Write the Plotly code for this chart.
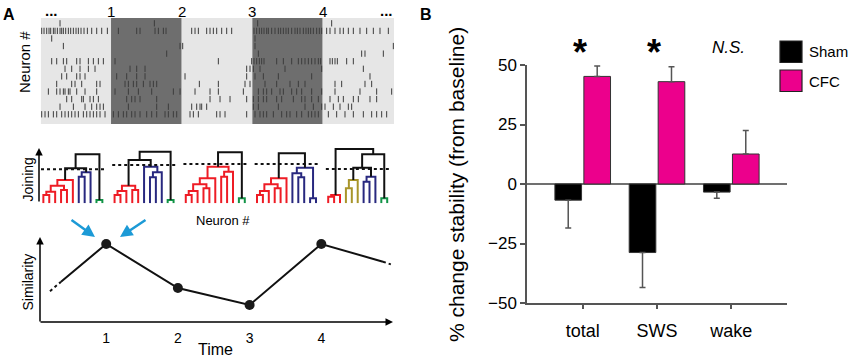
import plotly.graph_objects as go

# ======================= DATA =======================
# ---- Panel B: % change stability ----
CATEGORIES = ["total", "SWS", "wake"]
SHAM_MEAN = [-6.8, -28.8, -3.4]
SHAM_SEM = [11.7, 14.7, 2.6]
CFC_MEAN = [45.2, 43.0, 12.6]
CFC_SEM = [4.4, 6.3, 9.9]
Y_TICKS = [-50, -25, 0, 25, 50]
SIG_LABELS = ["<b>*</b>", "<b>*</b>", "<i>N.S.</i>"]
SERIES_NAMES = ["Sham", "CFC"]

# ---- Panel A: raster (time in ms, 13 neurons) ----
EPOCH_EDGES = [0, 211, 423, 635, 846, 1060]
EPOCH_KIND = ["light", "dark", "light", "dark", "light"]
EPOCH_LABELS = ["1", "2", "3", "4"]
SPIKE_TIMES = [
    [58, 341, 651, 873],
    [3, 10, 18, 25, 30, 38, 43, 50, 58, 63, 68, 75, 83, 90, 98, 106, 113, 121, 130, 140, 153, 168, 183, 200,
     233, 288, 298, 343, 353, 368, 376, 453, 463, 473, 498, 508, 518, 528, 543, 558, 573,
     640, 648, 656, 663, 670, 678, 683, 693, 703, 713, 720, 728, 736, 743, 753, 763, 770, 778, 788, 796,
     803, 810, 818, 828, 836, 843, 858, 868, 883, 898, 908, 923, 938, 958, 978, 998, 1018, 1043],
    [33, 643],
    [68, 418, 426, 643, 1058],
    [378, 653, 963, 973, 1028],
    [33, 48, 68, 78, 108, 118, 143, 158, 173, 188, 223, 533, 633, 640, 648, 656, 663, 670, 708, 728, 753,
     773, 783, 793, 803, 813, 823, 833, 840, 868, 875, 883, 890, 918, 938],
    [73, 93, 118, 143, 163, 268, 288, 313, 618, 628, 638, 658, 733, 843, 968],
    [63, 78, 108, 118, 133, 228, 258, 288, 313, 433, 618, 643, 668, 713, 813, 988],
    [48, 93, 103, 123, 168, 178, 253, 263, 278, 288, 308, 328, 338, 348, 476, 533, 613, 628, 673,
     708, 748, 773, 793, 883, 903, 973, 993],
    [23, 48, 58, 68, 73, 83, 88, 108, 133, 168, 223, 263, 293, 333, 398, 418, 463, 508, 533, 608,
     653, 668, 678, 693, 718, 728, 753, 768, 783, 813, 843, 883, 958, 1008, 1053],
    [78, 93, 123, 128, 148, 158, 173, 258, 273, 283, 298, 348, 508, 538, 568, 618, 638, 653, 668, 678,
     708, 723, 758, 783, 793, 813, 833, 868, 893, 908, 938, 953, 988, 1008],
    [58, 98, 133, 153, 168, 178, 188, 263, 348, 383, 453, 468, 478, 483, 498, 638, 653, 713, 793, 818,
     843, 853, 878, 898, 923, 933],
    [3, 13, 23, 38, 48, 63, 73, 83, 93, 103, 113, 128, 138, 148, 158, 168, 178, 193, 218, 233, 248, 258,
     273, 283, 298, 318, 333, 348, 373, 383, 398, 408, 448, 458, 473, 528, 538, 553, 618, 643, 658, 668,
     678, 698, 723, 738, 748, 768, 783, 803, 813, 823, 833, 863, 888, 913, 938, 968, 993, 1008, 1023, 1038],
]

# ---- Panel A: dendrograms (merge: child a, child b, joining height, cluster) ----
NEURON_LABELS = ["1", "2", "3", "4", "5", "6", "7", "8", "9", "10", "11"]
DENDROGRAMS = [
    [(1, 2, 8.3, "r"), (12, 3, 11.6, "r"), (4, 5, 13.3, "r"), (13, 14, 17.6, "r"), (15, 6, 23.3, "r"),
     (7, 8, 26.6, "b"), (17, 9, 31.0, "b"), (10, 11, 3.3, "g"), (16, 18, 35.0, "k"), (20, 19, 49.0, "k")],
    [(1, 2, 8.3, "r"), (12, 3, 12.3, "r"), (4, 5, 13.3, "r"), (13, 14, 17.6, "r"), (7, 8, 26.0, "b"),
     (16, 9, 31.0, "b"), (6, 17, 36.6, "b"), (10, 11, 3.3, "g"), (15, 18, 43.3, "k"), (20, 19, 51.6, "k")],
    [(1, 2, 8.3, "r"), (12, 3, 12.3, "r"), (4, 5, 15.0, "r"), (13, 14, 19.0, "r"), (15, 6, 25.0, "r"),
     (7, 8, 26.6, "r"), (17, 9, 31.6, "r"), (16, 18, 36.6, "r"), (10, 11, 5.0, "g"), (19, 20, 51.0, "k")],
    [(1, 2, 8.3, "r"), (12, 3, 12.3, "r"), (4, 5, 15.0, "r"), (13, 14, 19.0, "r"), (15, 6, 25.0, "r"),
     (8, 9, 26.0, "b"), (7, 17, 30.0, "b"), (10, 11, 5.0, "b"), (18, 19, 35.6, "b"), (16, 20, 50.0, "k")],
    [(1, 2, 6.6, "r"), (12, 3, 8.3, "r"), (4, 5, 15.0, "o"), (14, 6, 23.3, "o"), (7, 8, 21.6, "b"),
     (16, 9, 26.6, "b"), (10, 11, 5.0, "g"), (15, 17, 35.6, "k"), (19, 18, 49.0, "k"), (13, 20, 54.3, "k")],
]
THRESHOLDS = [34.0, 38.3, 39.3, 39.3, 34.3]

# ---- Panel A: similarity over time ----
SIM_TIME = [1, 2, 3, 4]
SIM_VALUES = [78, 34, 17, 78]
SIM_LEAD_TIME = [0.216, 0.37]
SIM_LEAD_VALUES = [30.8, 40.3]
SIM_TAIL_TIME = [4.86, 4.97]
SIM_TAIL_VALUES = [60.3, 57.6]

# ======================= STYLE / LAYOUT =======================
W, H = 850, 358
FONT = "Liberation Sans, Arial, sans-serif"
SHAM_COLOR = "#000000"
CFC_COLOR = "#ec008c"
AXIS_COLOR = "#555555"
EPOCH_COLORS = {"light": "#e6e6e6", "dark": "#6e6e6e"}
CLUSTER_COLORS = {"r": "#ee1c25", "b": "#28287f", "g": "#129447", "o": "#a8952a", "k": "#111111"}
DENDRO_SPACING = 12.07
BLUE_ARROW = "#1c9ad6"


def fx(p):
    return p / W


def fy(p):
    return 1 - p / H


fig = go.Figure()

# ---------------- Panel B bars ----------------
fig.add_trace(go.Bar(
    x=CATEGORIES, y=SHAM_MEAN, name=SERIES_NAMES[0],
    marker=dict(color=SHAM_COLOR, line=dict(color="#333333", width=1)),
    error_y=dict(type="data", symmetric=False, array=[0 for _ in SHAM_SEM], arrayminus=SHAM_SEM,
                 color=AXIS_COLOR, thickness=1.5, width=3),
    xaxis="x", yaxis="y", showlegend=False))
fig.add_trace(go.Bar(
    x=CATEGORIES, y=CFC_MEAN, name=SERIES_NAMES[1],
    marker=dict(color=CFC_COLOR, line=dict(color="#333333", width=1)),
    error_y=dict(type="data", symmetric=False, array=CFC_SEM, arrayminus=[0 for _ in CFC_SEM],
                 color=AXIS_COLOR, thickness=1.5, width=3),
    xaxis="x", yaxis="y", showlegend=False))

# ---------------- Panel A raster ----------------
sx, sy = [], []
for r, times in enumerate(SPIKE_TIMES, start=1):
    sx.extend(times)
    sy.extend([r] * len(times))
fig.add_trace(go.Scatter(
    x=sx, y=sy, mode="markers", xaxis="x2", yaxis="y2", hoverinfo="skip", showlegend=False,
    marker=dict(symbol="line-ns", size=4.5, line=dict(color="#3c3c3c", width=1))))

shapes = []
for k, kind in enumerate(EPOCH_KIND):
    shapes.append(dict(type="rect", xref="x2", yref="y2 domain", x0=EPOCH_EDGES[k], x1=EPOCH_EDGES[k + 1],
                       y0=0, y1=1, fillcolor=EPOCH_COLORS[kind], line=dict(width=0), layer="below"))

# ---------------- Panel A dendrograms ----------------
for k, merges in enumerate(DENDROGRAMS):
    off = k * DENDRO_SPACING
    pos = {i: (i - 1 + off, 0.0) for i in range(1, 12)}
    segs = {}
    nid = 12
    for a, b, h, c in merges:
        xa, ha = pos[a]
        xb, hb = pos[b]
        xs, ys = segs.setdefault(c, ([], []))
        xs.extend([xa, xa, xb, xb, None])
        ys.extend([ha, h, h, hb, None])
        pos[nid] = ((xa + xb) / 2, h)
        nid += 1
    for c, (xs, ys) in segs.items():
        fig.add_trace(go.Scatter(x=xs, y=ys, mode="lines", xaxis="x3", yaxis="y3", hoverinfo="skip",
                                 showlegend=False, cliponaxis=False,
                                 line=dict(color=CLUSTER_COLORS[c], width=2)))
    fig.add_trace(go.Scatter(x=[off - 0.4, off + 10.5], y=[THRESHOLDS[k], THRESHOLDS[k]], mode="lines",
                             xaxis="x3", yaxis="y3", hoverinfo="skip", showlegend=False, cliponaxis=False,
                             line=dict(color="#111111", width=2, dash="3px,3px")))

lx, ly, lt = [], [], []
for k in range(len(DENDROGRAMS)):
    for i, lab in enumerate(NEURON_LABELS):
        lx.append(k * DENDRO_SPACING + i)
        ly.append(-4.7)
        lt.append(lab)
fig.add_trace(go.Scatter(x=lx, y=ly, text=lt, mode="text", xaxis="x3", yaxis="y3", hoverinfo="skip",
                         showlegend=False, cliponaxis=False,
                         textfont=dict(size=6.5, family="Liberation Sans Narrow, Liberation Sans, Arial",
                                       color="#222222")))

# ---------------- Panel A similarity ----------------
fig.add_trace(go.Scatter(x=SIM_LEAD_TIME, y=SIM_LEAD_VALUES, mode="lines", xaxis="x4", yaxis="y4",
                         showlegend=False, hoverinfo="skip", cliponaxis=False,
                         line=dict(color="#111111", width=2, dash="dot")))
fig.add_trace(go.Scatter(x=SIM_TAIL_TIME, y=SIM_TAIL_VALUES, mode="lines", xaxis="x4", yaxis="y4",
                         showlegend=False, hoverinfo="skip", cliponaxis=False,
                         line=dict(color="#111111", width=2, dash="dot")))
fig.add_trace(go.Scatter(x=[SIM_LEAD_TIME[-1]] + SIM_TIME + [SIM_TAIL_TIME[0]],
                         y=[SIM_LEAD_VALUES[-1]] + SIM_VALUES + [SIM_TAIL_VALUES[0]],
                         mode="lines", xaxis="x4", yaxis="y4", showlegend=False, hoverinfo="skip",
                         cliponaxis=False, line=dict(color="#111111", width=2)))
fig.add_trace(go.Scatter(x=SIM_TIME, y=SIM_VALUES, mode="markers", xaxis="x4", yaxis="y4",
                         showlegend=False, hoverinfo="skip", cliponaxis=False,
                         marker=dict(color="#1a1a1a", size=10)))

# ---------------- annotations ----------------
ann = []


def text(x, y, t, size, angle=0, xanchor="center", **kw):
    ann.append(dict(x=fx(x), y=fy(y), xref="paper", yref="paper", text=t, showarrow=False,
                    font=dict(size=size, family=FONT, color="black"), textangle=angle,
                    xanchor=xanchor, yanchor="middle", **kw))


def arrow(hx, hy, tx, ty, color="black", width=1.5, head=2):
    ann.append(dict(x=fx(hx), y=fy(hy), xref="paper", yref="paper", ax=tx - hx, ay=ty - hy,
                    axref="pixel", ayref="pixel", text="", showarrow=True, arrowhead=head,
                    arrowsize=1, arrowwidth=width, arrowcolor=color, standoff=0, startstandoff=0))


text(9, 14, "<b>A</b>", 16)
text(426, 14, "<b>B</b>", 16)

# raster labels
for k, lab in enumerate(EPOCH_LABELS):
    ann.append(dict(x=EPOCH_EDGES[k + 1], y=fy(11), xref="x2", yref="paper", text=lab, showarrow=False,
                    font=dict(size=15, family=FONT, color="black"), xanchor="center", yanchor="middle"))
text(51, 10, "<b>...</b>", 15)
text(386, 10, "<b>...</b>", 15)
text(25, 62, "Neuron #", 15, angle=-90)

# dendrogram labels
arrow(39, 148, 39, 203)
text(27.5, 180, "Joining", 14, angle=-90)
text(223, 220, "Neuron #", 13)
arrow(95, 237, 70, 219, color=BLUE_ARROW, width=2.5)
arrow(120, 237, 147, 219, color=BLUE_ARROW, width=2.5)

# similarity axes
arrow(40, 237, 40, 323)
arrow(393, 322, 39, 322)
text(27.5, 282, "Similarity", 14, angle=-90)
text(215, 349, "Time", 16)

# panel B texts
text(456, 185, "% change stability (from baseline)", 21, angle=-90)
for i, lab in enumerate(SIG_LABELS):
    big = lab.startswith("<b>")
    ann.append(dict(x=CATEGORIES[i], y=fy(53 if big else 48), xref="x", yref="paper", text=lab,
                    showarrow=False, xshift=-3,
                    font=dict(size=36 if big else 17, family=FONT, color="black"),
                    xanchor="center", yanchor="middle"))
# legend
LEG_Y = [41, 70]
for name, col, y0 in zip(SERIES_NAMES, [SHAM_COLOR, CFC_COLOR], LEG_Y):
    shapes.append(dict(type="rect", xref="paper", yref="paper", x0=fx(780), x1=fx(802),
                       y0=fy(y0 + 21.5), y1=fy(y0), fillcolor=col, line=dict(color="#222222", width=1.2)))
    text(807, y0 + 11, name, 15, xanchor="left")

fig.update_layout(
    width=W, height=H, margin=dict(l=0, r=0, t=0, b=0, autoexpand=False), autosize=False,
    paper_bgcolor="white", plot_bgcolor="white",
    font=dict(family=FONT, color="black"),
    barmode="group", bargap=0.22, bargroupgap=0.08, showlegend=False,
    xaxis=dict(domain=[fx(527), fx(787)], anchor="y", type="category", range=[-0.75, 2.75],
               showline=True, linecolor=AXIS_COLOR, linewidth=1.5, ticks="outside", ticklen=4,
               tickcolor=AXIS_COLOR, tickwidth=1.5, tickfont=dict(size=18, color="black"),
               showgrid=False, zeroline=False, ticklabelstandoff=7, automargin=False),
    yaxis=dict(domain=[fy(303), fy(65)], anchor="x", range=[-50, 50], tickvals=Y_TICKS,
               showline=True, linecolor=AXIS_COLOR, linewidth=1.5, ticks="outside", ticklen=5,
               tickcolor=AXIS_COLOR, tickwidth=1.5, tickfont=dict(size=17, color="black"),
               showgrid=False, zeroline=True, zerolinecolor="#707070", zerolinewidth=1.5,
               automargin=False),
    xaxis2=dict(domain=[fx(40.7), fx(394)], anchor="y2", range=[EPOCH_EDGES[0], EPOCH_EDGES[-1]],
                visible=False, automargin=False),
    yaxis2=dict(domain=[fy(124), fy(18)], anchor="x2", range=[14.28, 0.30], visible=False,
                automargin=False),
    xaxis3=dict(domain=[fx(40.7), fx(394)], anchor="y3", range=[-0.45, 59.43], visible=False,
                automargin=False),
    yaxis3=dict(domain=[fy(203.3), fy(145)], anchor="x3", range=[0, 58.3], visible=False,
                automargin=False),
    xaxis4=dict(domain=[fx(40), fx(393)], anchor="y4", range=[0.0767, 5.0], showgrid=False,
                zeroline=False, showline=False, ticks="", tickvals=SIM_TIME,
                tickfont=dict(size=14, color="black"), ticklabelstandoff=6, automargin=False),
    yaxis4=dict(domain=[fy(322), fy(237)], anchor="x4", range=[0, 85], visible=False, automargin=False),
    shapes=shapes,
    annotations=ann,
)

fig.write_html("out.html", config={"displayModeBar": False},
               post_script="document.body.style.margin='0';document.body.style.padding='0';")
